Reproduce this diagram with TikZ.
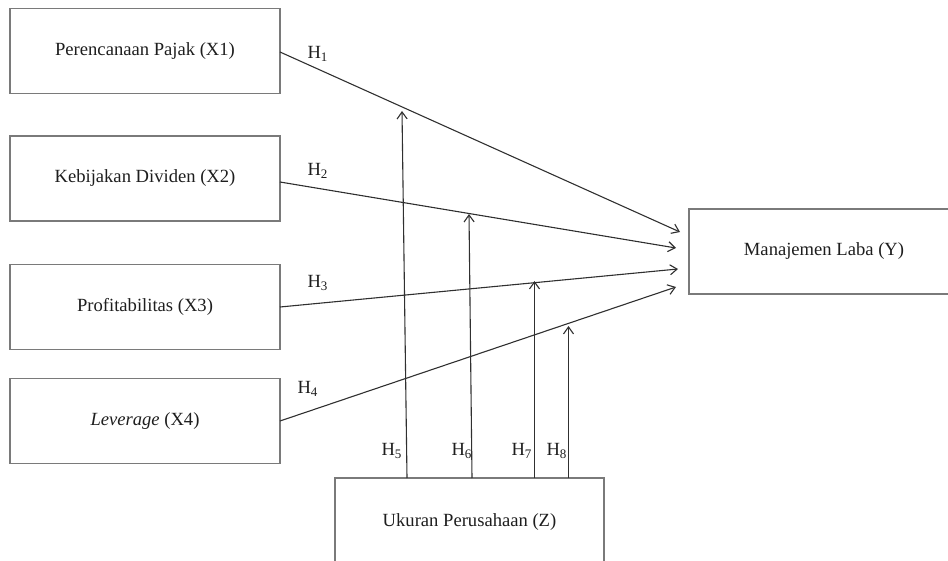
\documentclass[tikz,border=0pt]{standalone}
\usepackage{fontspec}
\setmainfont{Liberation Serif}
\usetikzlibrary{arrows.meta}
\definecolor{boxgray}{HTML}{7A7A7A}
\definecolor{linecol}{HTML}{303030}
\definecolor{textcol}{HTML}{1E1E1E}
\begin{document}
\begin{tikzpicture}[x=0.5pt,y=-0.5pt,
  box/.style={draw=boxgray,line width=0.6pt,minimum width=135pt,minimum height=42.5pt,inner sep=0pt,text=textcol,font=\fontsize{9.3}{11}\selectfont},
  conn/.style={draw=linecol,line width=0.55pt,-{Straight Barb[length=3.5pt,width=5pt]}},
  hlab/.style={text=textcol,inner sep=0pt,font=\fontsize{9.3}{11}\selectfont}]
\useasboundingbox (0,0) rectangle (948,561);
% boxes
\node[box] (x1) at (145,51) {Perencanaan Pajak (X1)};
\node[box] (x2) at (145,178.5) {Kebijakan Dividen (X2)};
\node[box] (x3) at (145,307) {Profitabilitas (X3)};
\node[box] (x4) at (145,421) {\textit{Leverage} (X4)};
\node[box] (y) at (824,251.5) {Manajemen Laba (Y)};
\node[box,minimum width=134.5pt,minimum height=44pt] (z) at (469.5,522) {Ukuran Perusahaan (Z)};
% coordinates
\coordinate (s1) at (280,52);
\coordinate (s2) at (280,182);
\coordinate (s3) at (280,307);
\coordinate (s4) at (280,421);
\coordinate (e1) at (680,232);
\coordinate (e2) at (676,248);
\coordinate (e3) at (678,269);
\coordinate (e4) at (676,287);
\coordinate (b5) at (407,478);
\coordinate (t5) at (402,111);
\coordinate (b6) at (472,478);
\coordinate (t6) at (469,214);
\coordinate (b7) at (534.5,478);
\coordinate (t7) at (534.5,281);
\coordinate (b8) at (568.5,478);
\coordinate (t8) at (568.5,326);
% connectors
\draw[conn] (s1) -- (e1);
\draw[conn] (s2) -- (e2);
\draw[conn] (s3) -- (e3);
\draw[conn] (s4) -- (e4);
\draw[conn] (b5) -- (t5);
\draw[conn] (b6) -- (t6);
\draw[conn] (b7) -- (t7);
\draw[conn] (b8) -- (t8);
% labels
\node[hlab] (h1) at (318,54) {H\textsubscript{1}};
\node[hlab] (h2) at (318,171) {H\textsubscript{2}};
\node[hlab] (h3) at (318,283) {H\textsubscript{3}};
\node[hlab] (h4) at (308,389) {H\textsubscript{4}};
\node[hlab] (h5) at (392,451) {H\textsubscript{5}};
\node[hlab] (h6) at (462,451) {H\textsubscript{6}};
\node[hlab] (h7) at (522,451) {H\textsubscript{7}};
\node[hlab] (h8) at (557,451) {H\textsubscript{8}};
\end{tikzpicture}
\end{document}
